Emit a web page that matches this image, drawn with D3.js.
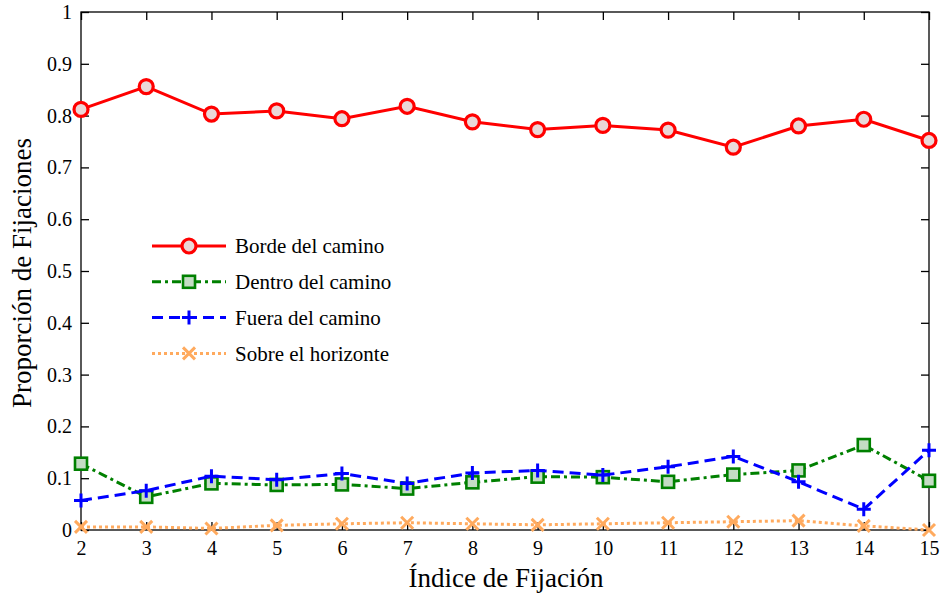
<!DOCTYPE html>
<html>
<head>
<meta charset="utf-8">
<script src="https://cdn.jsdelivr.net/npm/d3@7"></script>
<style>
  html, body { margin: 0; padding: 0; background: #fff; }
  svg { display: block; font-family: "Liberation Serif", "Times New Roman", serif; }
</style>
</head>
<body>
<svg id="chart" width="942" height="597"></svg>
<script>
// Fixation index on the x axis
const fixationIndex = [2, 3, 4, 5, 6, 7, 8, 9, 10, 11, 12, 13, 14, 15];

// Proportion of fixations per region
const bordeDelCamino  = [0.812, 0.856, 0.803, 0.809, 0.794, 0.818, 0.788, 0.773, 0.781, 0.772, 0.739, 0.780, 0.793, 0.752];
const dentroDelCamino = [0.128, 0.064, 0.090, 0.087, 0.088, 0.080, 0.092, 0.103, 0.102, 0.093, 0.107, 0.115, 0.164, 0.095];
const fueraDelCamino  = [0.057, 0.076, 0.104, 0.097, 0.109, 0.090, 0.110, 0.115, 0.106, 0.122, 0.142, 0.093, 0.040, 0.154];
const sobreHorizonte  = [0.006, 0.006, 0.003, 0.009, 0.012, 0.014, 0.012, 0.010, 0.012, 0.014, 0.016, 0.018, 0.008, 0.000];

const seriesNames = ["Borde del camino", "Dentro del camino", "Fuera del camino", "Sobre el horizonte"];
const yTicks = [0, 0.1, 0.2, 0.3, 0.4, 0.5, 0.6, 0.7, 0.8, 0.9, 1];
const yTickLabels = ["0", "0.1", "0.2", "0.3", "0.4", "0.5", "0.6", "0.7", "0.8", "0.9", "1"];

const series = [
  { name: seriesNames[0], values: bordeDelCamino,  color: "#ff0000", dash: null,        marker: "circle", fill: "#ead8d8" },
  { name: seriesNames[1], values: dentroDelCamino, color: "#008000", dash: "9,4,3,4",   marker: "square", fill: "#c4dcc4" },
  { name: seriesNames[2], values: fueraDelCamino,  color: "#0000ff", dash: "11,6",      marker: "plus",   fill: "none" },
  { name: seriesNames[3], values: sobreHorizonte,  color: "#ffaa5e", dash: "3,3",       marker: "cross",  fill: "none" }
];

const svg = d3.select("#chart");
const plotLeft = 81, plotRight = 929, plotTop = 12, plotBottom = 530;

const x = d3.scaleLinear().domain([2, 15]).range([plotLeft, plotRight]);
const y = d3.scaleLinear().domain([0, 1]).range([plotBottom, plotTop]);

const tickLen = 8;

// Frame
svg.append("rect")
  .attr("x", plotLeft).attr("y", plotTop)
  .attr("width", plotRight - plotLeft).attr("height", plotBottom - plotTop)
  .attr("fill", "none").attr("stroke", "#000").attr("stroke-width", 1.3);

// Bottom axis (ticks inward) and mirrored top ticks
const xAxis = d3.axisBottom(x).tickValues(fixationIndex).tickFormat(d3.format("d"))
  .tickSizeInner(-tickLen).tickSizeOuter(0).tickPadding(11);
const gx = svg.append("g").attr("transform", `translate(0,${plotBottom})`).call(xAxis);
const xTopAxis = d3.axisTop(x).tickValues(fixationIndex).tickFormat("")
  .tickSizeInner(-tickLen).tickSizeOuter(0);
const gxt = svg.append("g").attr("transform", `translate(0,${plotTop})`).call(xTopAxis);

// Left axis (ticks inward) and mirrored right ticks
const yAxis = d3.axisLeft(y).tickValues(yTicks).tickFormat((d, i) => yTickLabels[i])
  .tickSizeInner(-tickLen).tickSizeOuter(0).tickPadding(9);
const gy = svg.append("g").attr("transform", `translate(${plotLeft},0)`).call(yAxis);
const yRightAxis = d3.axisRight(y).tickValues(yTicks).tickFormat("")
  .tickSizeInner(-tickLen).tickSizeOuter(0);
const gyr = svg.append("g").attr("transform", `translate(${plotRight},0)`).call(yRightAxis);

[gx, gxt, gy, gyr].forEach(g => {
  g.attr("font-family", null).attr("font-size", null);
  g.select(".domain").remove();
  g.selectAll(".tick line").attr("stroke", "#000").attr("stroke-width", 1.3);
  g.selectAll(".tick text")
    .attr("fill", "#000")
    .attr("font-family", "Liberation Serif, serif")
    .attr("font-size", 20);
});

// Axis titles
svg.append("text")
  .attr("x", (plotLeft + plotRight) / 2 + 1).attr("y", 587)
  .attr("text-anchor", "middle")
  .attr("font-size", 27)
  .text("Índice de Fijación");

svg.append("text")
  .attr("transform", `translate(31,${(plotTop + plotBottom) / 2 + 2}) rotate(-90)`)
  .attr("text-anchor", "middle")
  .attr("font-size", 27)
  .text("Proporción de Fijaciones");

// Marker drawing
function drawMarker(g, s) {
  if (s.marker === "circle") {
    g.append("circle").attr("r", 7)
      .attr("fill", s.fill).attr("stroke", s.color).attr("stroke-width", 3.2);
  } else if (s.marker === "square") {
    g.append("rect").attr("x", -6).attr("y", -6).attr("width", 12).attr("height", 12)
      .attr("fill", s.fill).attr("stroke", s.color).attr("stroke-width", 2.6);
  } else if (s.marker === "plus") {
    g.append("path").attr("d", "M-7,0H7M0,-7V7")
      .attr("stroke", s.color).attr("stroke-width", 3).attr("fill", "none");
  } else if (s.marker === "cross") {
    g.append("path").attr("d", "M-6,-6L6,6M-6,6L6,-6")
      .attr("stroke", s.color).attr("stroke-width", 3).attr("fill", "none");
  }
}

const line = d3.line().x((d, i) => x(fixationIndex[i])).y(d => y(d));

// Draw series in back-to-front order
const drawOrder = [3, 1, 2, 0];
drawOrder.forEach(k => {
  const s = series[k];
  const g = svg.append("g");
  g.append("path")
    .datum(s.values)
    .attr("d", line)
    .attr("fill", "none")
    .attr("stroke", s.color)
    .attr("stroke-width", 3)
    .attr("stroke-dasharray", s.dash);
  g.selectAll("g.mk")
    .data(s.values)
    .join("g")
    .attr("class", "mk")
    .attr("transform", (d, i) => `translate(${x(fixationIndex[i])},${y(d)})`)
    .each(function () { drawMarker(d3.select(this), s); });
});

// Legend
const legendX0 = 152, legendX1 = 226, legendY0 = 246, legendStep = 35.8;
series.forEach((s, i) => {
  const ly = legendY0 + i * legendStep;
  const g = svg.append("g");
  g.append("line")
    .attr("x1", legendX0).attr("x2", legendX1).attr("y1", ly).attr("y2", ly)
    .attr("stroke", s.color).attr("stroke-width", 3)
    .attr("stroke-dasharray", s.dash);
  const m = g.append("g").attr("transform", `translate(${(legendX0 + legendX1) / 2},${ly})`);
  drawMarker(m, s);
  g.append("text")
    .attr("x", 235).attr("y", ly)
    .attr("dy", "0.35em")
    .attr("font-size", 21)
    .text(s.name);
});
</script>
</body>
</html>
